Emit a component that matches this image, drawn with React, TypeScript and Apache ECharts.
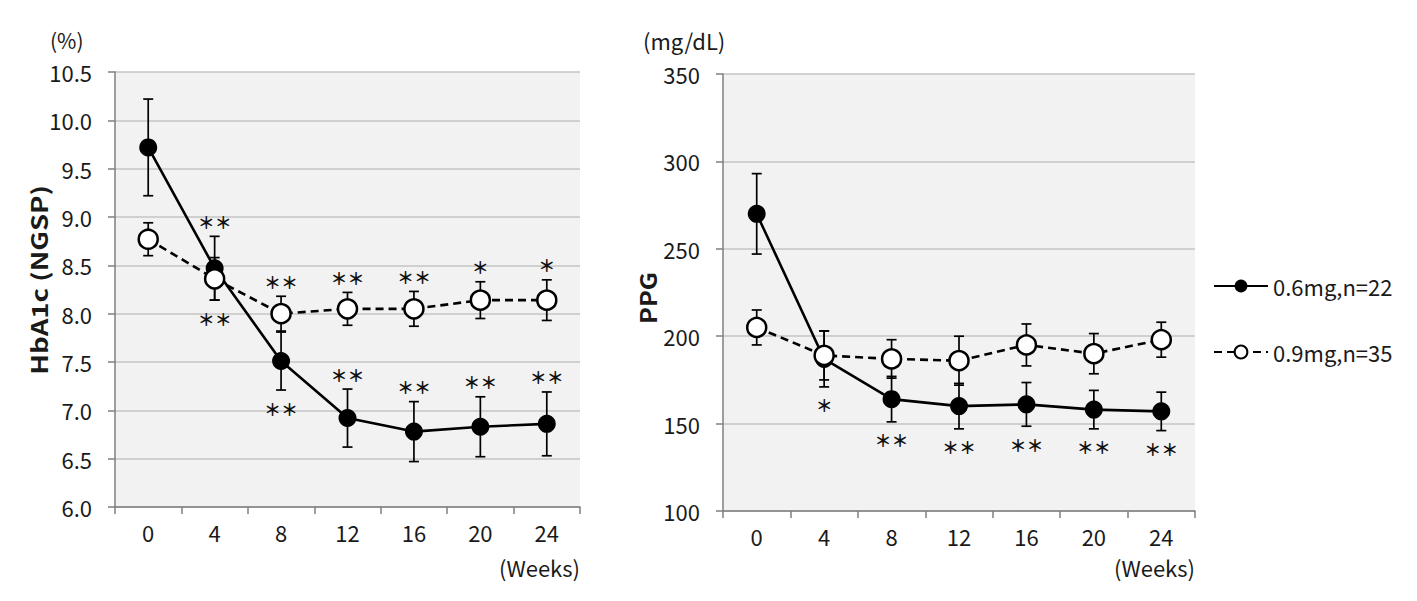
import React, { useEffect, useRef } from "react";
import * as echarts from "echarts";

const weeks = ["0", "4", "8", "12", "16", "20", "24"];

const seriesNames = ["0.6mg,n=22", "0.9mg,n=35"];

// HbA1c (%)
const hba1c06 = [9.72, 8.47, 7.51, 6.92, 6.78, 6.83, 6.86];
const hba1c06Err = [0.5, 0.33, 0.3, 0.3, 0.31, 0.31, 0.33];
const hba1c09 = [8.77, 8.36, 8.0, 8.05, 8.05, 8.14, 8.14];
const hba1c09Err = [0.17, 0.22, 0.18, 0.17, 0.18, 0.19, 0.21];

// PPG (mg/dL)
const ppg06 = [270, 187, 164, 160, 161, 158, 157];
const ppg06Err = [23, 16, 13, 13, 12.5, 11, 11];
const ppg09 = [205, 189, 187, 186, 195, 190, 198];
const ppg09Err = [10, 14, 11, 14, 12, 11.5, 10];

// significance marks
const hba1c06Sig = ["", "**", "**", "**", "**", "**", "**"];
const hba1c06Side = ["", "above", "below", "above", "above", "above", "above"];
const hba1c09Sig = ["", "**", "**", "**", "**", "*", "*"];
const hba1c09Side = ["", "below", "above", "above", "above", "above", "above"];
const ppg06Sig = ["", "*", "**", "**", "**", "**", "**"];
const ppg06Side = ["", "below", "below", "below", "below", "below", "below"];

const FONT = "'Noto Sans CJK JP', 'Noto Sans', sans-serif";
const GRID_BG = "#f2f2f2";
const AXIS_COLOR = "#7f7f7f";
const SPLIT_COLOR = "#c4c4c4";
const TICK_FS = 22;

function errData(vals: number[], errs: number[]) {
  return vals.map((v, i) => [i, v, errs[i]]);
}

function sigData(vals: number[], errs: number[], sig: string[], side: string[]) {
  const out: any[] = [];
  vals.forEach((v, i) => {
    if (!sig[i]) return;
    const up = side[i] === "above";
    out.push({ value: [i, up ? v + errs[i] : v - errs[i], up ? 1 : -1], sig: sig[i] });
  });
  return out;
}

function errorSeries(idx: number, vals: number[], errs: number[]) {
  return {
    type: "custom",
    xAxisIndex: idx,
    yAxisIndex: idx,
    z: 1,
    silent: true,
    data: errData(vals, errs),
    renderItem: (params: any, api: any) => {
      const x = api.value(0);
      const v = api.value(1);
      const e = api.value(2);
      const top = api.coord([x, v + e]);
      const bot = api.coord([x, v - e]);
      const hw = 5;
      const style = { stroke: "#000", lineWidth: 1.7, fill: null };
      return {
        type: "group",
        children: [
          { type: "line", shape: { x1: top[0], y1: top[1], x2: bot[0], y2: bot[1] }, style },
          { type: "line", shape: { x1: top[0] - hw, y1: top[1], x2: top[0] + hw, y2: top[1] }, style },
          { type: "line", shape: { x1: bot[0] - hw, y1: bot[1], x2: bot[0] + hw, y2: bot[1] }, style },
        ],
      };
    },
  };
}

function sigSeries(idx: number, data: any[]) {
  return {
    type: "custom",
    xAxisIndex: idx,
    yAxisIndex: idx,
    z: 5,
    silent: true,
    data,
    renderItem: (params: any, api: any) => {
      const x = api.value(0);
      const v = api.value(1);
      const dir = api.value(2);
      const p = api.coord([x, v]);
      const item = data[params.dataIndex];
      const y = dir > 0 ? p[1] - 15 : p[1] + 18;
      const txt = item.sig.replace(/\*/g, "＊");
      return {
        type: "text",
        x: p[0],
        y,
        style: {
          text: txt,
          fontSize: 17,
          fontWeight: "bold",
          fontFamily: "'Noto Sans CJK JP', sans-serif",
          fill: "#111",
          align: "center",
          verticalAlign: "middle",
        },
      };
    },
  };
}

function lineSeries(name: string, idx: number, vals: number[], filled: boolean) {
  return {
    name,
    type: "line",
    xAxisIndex: idx,
    yAxisIndex: idx,
    z: filled ? 2 : 3,
    data: vals,
    symbol: "circle",
    symbolSize: filled ? 18 : 19,
    showAllSymbol: true,
    lineStyle: { color: "#000", width: 2.6, type: filled ? "solid" : [8, 5] },
    itemStyle: filled
      ? { color: "#000", borderColor: "#000", borderWidth: 0 }
      : { color: "#fff", borderColor: "#000", borderWidth: 2.5 },
  };
}

function xAxis(idx: number) {
  return {
    type: "category",
    gridIndex: idx,
    data: weeks,
    boundaryGap: true,
    axisLine: { lineStyle: { color: AXIS_COLOR, width: 1.5 } },
    axisTick: { show: true, length: 7, lineStyle: { color: AXIS_COLOR, width: 1.5 } },
    axisLabel: { fontSize: TICK_FS, color: "#1a1a1a", fontFamily: FONT, margin: 14 },
  };
}

function yAxis(idx: number, min: number, max: number, interval: number, digits: number) {
  return {
    type: "value",
    gridIndex: idx,
    min,
    max,
    interval,
    axisLine: { show: true, lineStyle: { color: AXIS_COLOR, width: 1.5 } },
    axisTick: { show: true, length: 7, lineStyle: { color: AXIS_COLOR, width: 1.5 } },
    axisLabel: {
      fontSize: TICK_FS,
      color: "#1a1a1a",
      fontFamily: FONT,
      margin: 23,
      formatter: (v: number) => v.toFixed(digits),
    },
    splitLine: { show: true, lineStyle: { color: SPLIT_COLOR, width: 1.5 } },
  };
}

export default function App() {
  const ref = useRef<HTMLDivElement>(null);
  useEffect(() => {
    document.body.style.margin = "0";
    const chart = echarts.init(ref.current!, null, { renderer: "svg" });
    const textStyle = { fontFamily: FONT, fill: "#1a1a1a" };
    chart.setOption({
      animation: false,
      backgroundColor: "#fff",
      grid: [
        { left: 115, top: 72, width: 465, height: 435, show: true, backgroundColor: GRID_BG, borderWidth: 0 },
        { left: 723, top: 74, width: 472, height: 437, show: true, backgroundColor: GRID_BG, borderWidth: 0 },
      ],
      xAxis: [xAxis(0), xAxis(1)],
      yAxis: [yAxis(0, 6, 10.5, 0.5, 1), yAxis(1, 100, 350, 50, 0)],
      legend: {
        data: seriesNames,
        orient: "vertical",
        left: 1208,
        top: 270,
        itemGap: 44,
        itemWidth: 54,
        itemHeight: 16,
        selectedMode: false,
        textStyle: { fontSize: 22, color: "#1a1a1a", fontFamily: FONT },
      },
      graphic: [
        { type: "text", x: 50, y: 40, style: { ...textStyle, text: "(%)", fontSize: 21, verticalAlign: "middle" } },
        { type: "text", x: 643, y: 40, style: { ...textStyle, text: "(mg/dL)", fontSize: 22, verticalAlign: "middle" } },
        { type: "text", x: 580, y: 567, style: { ...textStyle, text: "(Weeks)", fontSize: 22, align: "right", verticalAlign: "middle" } },
        { type: "text", x: 1195, y: 567, style: { ...textStyle, text: "(Weeks)", fontSize: 22, align: "right", verticalAlign: "middle" } },
        {
          type: "text",
          x: 38,
          y: 280,
          rotation: Math.PI / 2,
          scaleX: 1.25,
          style: { ...textStyle, text: "HbA1c (NGSP)", fontSize: 22, fontWeight: "bold", align: "center", verticalAlign: "middle" },
        },
        {
          type: "text",
          x: 648,
          y: 298,
          rotation: Math.PI / 2,
          scaleX: 1.15,
          style: { ...textStyle, text: "PPG", fontSize: 22, fontWeight: "bold", align: "center", verticalAlign: "middle" },
        },
      ],
      series: [
        errorSeries(0, hba1c06, hba1c06Err),
        errorSeries(0, hba1c09, hba1c09Err),
        lineSeries(seriesNames[0], 0, hba1c06, true),
        lineSeries(seriesNames[1], 0, hba1c09, false),
        sigSeries(0, sigData(hba1c06, hba1c06Err, hba1c06Sig, hba1c06Side)),
        sigSeries(0, sigData(hba1c09, hba1c09Err, hba1c09Sig, hba1c09Side)),
        errorSeries(1, ppg06, ppg06Err),
        errorSeries(1, ppg09, ppg09Err),
        lineSeries(seriesNames[0], 1, ppg06, true),
        lineSeries(seriesNames[1], 1, ppg09, false),
        sigSeries(1, sigData(ppg06, ppg06Err, ppg06Sig, ppg06Side)),
      ],
    });
    return () => chart.dispose();
  }, []);
  return <div ref={ref} style={{ width: 1417, height: 601 }} />;
}
